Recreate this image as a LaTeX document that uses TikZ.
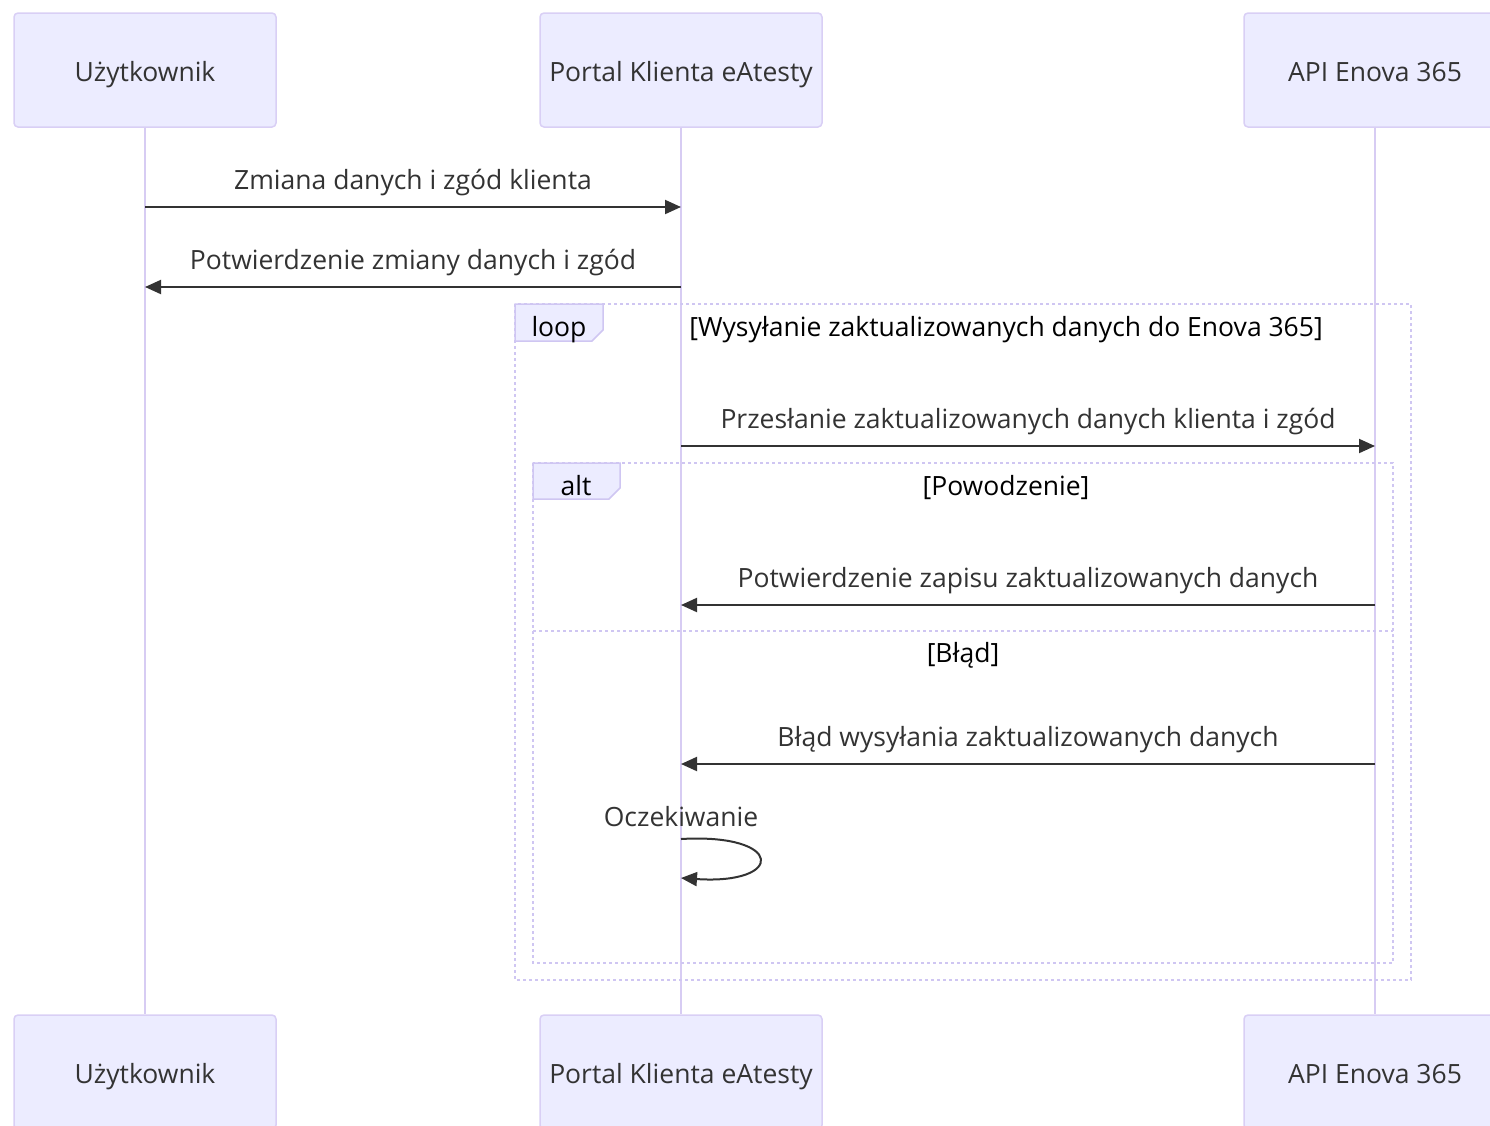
\documentclass[tikz,border=0pt]{standalone}
\usepackage{fontspec}
\setmainfont{Open Sans}
\usetikzlibrary{arrows.meta}
\definecolor{actfill}{HTML}{ECECFF}
\definecolor{actline}{HTML}{D9CFF5}
\definecolor{lifeline}{HTML}{D7CCF3}
\definecolor{frameline}{HTML}{CFC6F2}
\definecolor{txt}{HTML}{333333}
\begin{document}
\begin{tikzpicture}[x=1pt,y=-1pt,
  actor/.style={draw=actline,fill=actfill,line width=1.5pt,rounded corners=4pt,minimum height=114pt,inner sep=0pt},
  lbl/.style={text=txt,font=\fontsize{26.5}{30}\selectfont,inner sep=0pt,anchor=base},
  life/.style={draw=lifeline,line width=2pt},
  arr/.style={draw=txt,line width=2pt,-{Triangle[length=16pt,width=14pt]}},
  frame/.style={draw=frameline,line width=2pt,dash pattern=on 3pt off 3pt},
  tab/.style={draw=frameline,fill=actfill,line width=1.5pt},
  tablbl/.style={text=black,font=\fontsize{26.5}{30}\selectfont,inner sep=0pt,anchor=base}]
\useasboundingbox (0,0) rectangle (1490,1125);
\begin{scope}
\clip (0,0) rectangle (1490,1125);
% actors top
\node[actor,minimum width=262pt] (u1) at (145,70) {};
\node[actor,minimum width=282pt] (p1) at (681,70) {};
\node[actor,minimum width=262pt] (a1) at (1375,70) {};
% actors bottom
\node[actor,minimum width=262pt] (u2) at (145,1072) {};
\node[actor,minimum width=282pt] (p2) at (681,1072) {};
\node[actor,minimum width=262pt] (a2) at (1375,1072) {};
\end{scope}
\node[lbl] (u1t) at (145,81) {Użytkownik};
\node[lbl] (p1t) at (681,81) {Portal Klienta eAtesty};
\node[lbl] (a1t) at (1375,81) {API Enova 365};
\node[lbl] (u2t) at (145,1083) {Użytkownik};
\node[lbl] (p2t) at (681,1083) {Portal Klienta eAtesty};
\node[lbl] (a2t) at (1375,1083) {API Enova 365};
% lifelines
\draw[life] (u1.south) -- (u2.north);
\draw[life] (p1.south) -- (p2.north);
\draw[life] (a1.south) -- (a2.north);
% coordinates on lifelines
\coordinate (u207) at (145,207);
\coordinate (p207) at (681,207);
\coordinate (u287) at (145,287);
\coordinate (p287) at (681,287);
\coordinate (p446) at (681,446);
\coordinate (a446) at (1375,446);
\coordinate (p605) at (681,605);
\coordinate (a605) at (1375,605);
\coordinate (p764) at (681,764);
\coordinate (a764) at (1375,764);
\coordinate (p839) at (681,839);
\coordinate (p878) at (681,878);
% loop frame
\draw[frame] (515,304) rectangle (1411,980);
\draw[tab] (515,304) -- (603,304) -- (603,330) -- (592,341) -- (515,341) -- cycle;
\node[tablbl] (looplbl) at (559,336) {loop};
\node[lbl,text=black] (loopcond) at (1006,336) {[Wysyłanie zaktualizowanych danych do Enova 365]};
% alt frame
\draw[frame] (533,463) rectangle (1393,963);
\draw[frame] (533,631) -- (1393,631);
\draw[tab] (533,463) -- (620,463) -- (620,488) -- (609,499) -- (533,499) -- cycle;
\node[tablbl] (altlbl) at (576,495) {alt};
\node[lbl,text=black] (altc1) at (1006,495) {[Powodzenie]};
\node[lbl,text=black] (altc2) at (963,662) {[Błąd]};
% messages
\node[lbl] (m1) at (413,189) {Zmiana danych i zgód klienta};
\draw[arr] (u207) -- (p207);
\node[lbl] (m2) at (413,269) {Potwierdzenie zmiany danych i zgód};
\draw[arr] (p287) -- (u287);
\node[lbl] (m3) at (1028,428) {Przesłanie zaktualizowanych danych klienta i zgód};
\draw[arr] (p446) -- (a446);
\node[lbl] (m4) at (1028,587) {Potwierdzenie zapisu zaktualizowanych danych};
\draw[arr] (a605) -- (p605);
\node[lbl] (m5) at (1028,746) {Błąd wysyłania zaktualizowanych danych};
\draw[arr] (a764) -- (p764);
\node[lbl] (m6) at (681,826) {Oczekiwanie};
\draw[arr] (p839) .. controls (785,833) and (785,885) .. (p878);
\end{tikzpicture}
\end{document}
